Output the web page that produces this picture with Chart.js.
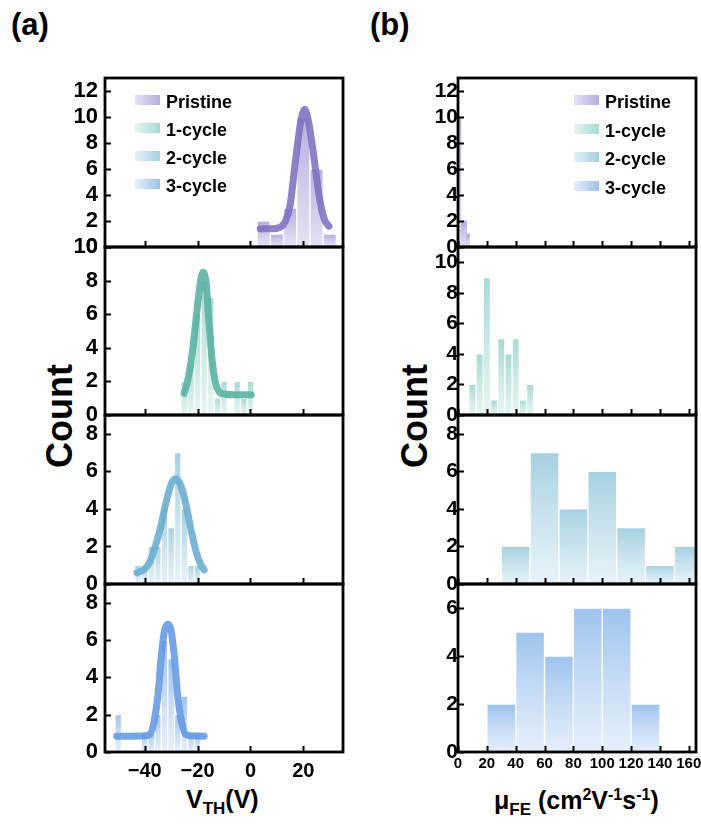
<!DOCTYPE html>
<html lang="en">
<head>
<meta charset="UTF-8" />
<title>V_TH and mobility histograms</title>
<script src="https://cdn.jsdelivr.net/npm/chart.js"></script>
<style>
  html, body { margin: 0; padding: 0; background: #fff; overflow: hidden; }
  #page { position: relative; width: 701px; height: 829px; font-family: "Liberation Sans", Arial, sans-serif; color: #000; }
  #page canvas { position: absolute; }
  .txt { position: absolute; font-weight: bold; white-space: nowrap; line-height: 1; }
  .tag { font-size: 31px; }
  .count { font-size: 36px; width: 120px; text-align: center; }
  .xt { font-size: 25px; }
  .xt sub { font-size: 17px; }
  .xt sup { font-size: 16px; }
  .leg { position: absolute; font-weight: bold; font-size: 18px; white-space: nowrap; line-height: 20px; }
  .leg i { display: inline-block; width: 25px; height: 10px; margin-right: 6px; vertical-align: 3px; }
</style>
</head>
<body>
<div id="page">
  <div class="txt tag" style="left:11px; top:9px">(a)</div>
  <div class="txt tag" style="left:370px; top:9px">(b)</div>
  <div class="txt count" style="left:0px; top:398px; transform:rotate(-90deg)">Count</div>
  <div class="txt count" style="left:355px; top:398px; transform:rotate(-90deg)">Count</div>
  <div class="txt xt" style="left:186px; top:787px">V<sub>TH</sub>(V)</div>
  <div class="txt xt" style="left:494px; top:787px">μ<sub>FE</sub> (cm<sup>2</sup>V<sup>-1</sup>s<sup>-1</sup>)</div>
</div>

<script>
  // ---- data ----
  const legendLabels = ['Pristine', '1-cycle', '2-cycle', '3-cycle'];

  // (a) threshold voltage histograms (bin centre, count)
  const vthPristineX = [5, 10, 15, 20, 25, 30];
  const vthPristineN = [2, 1, 3, 10, 6, 1];
  const vth1X = [-25, -22.5, -20, -17.5, -15, -12.5, -10, -7.5, -5, -2.5, 0];
  const vth1N = [2, 3, 6, 8, 7, 1, 2, 0, 2, 1, 2];
  const vth2X = [-42.5, -40, -37.5, -35, -32.5, -30, -27.5, -25, -22.5, -20];
  const vth2N = [1, 1, 2, 2, 4, 3, 7, 4, 1, 1];
  const vth3X = [-50, -47.5, -45, -42.5, -40, -37.5, -35, -32.5, -30, -27.5, -25, -22.5, -20];
  const vth3N = [2, 0, 0, 0, 1, 1, 2, 6, 5, 2, 3, 1, 1];

  // (a) fitted curves, sampled from the figure
  const fitPristineX = [3.7, 8, 11, 13, 15, 17, 19, 20.5, 22, 24, 26, 28, 29.7];
  const fitPristineY = [1.4, 1.4, 1.5, 1.9, 3.2, 6.6, 9.6, 10.6, 9.6, 6.9, 3.9, 2.1, 1.6];
  const fit1X = [-25.1, -23.8, -21.9, -20.1, -18.8, -17.9, -16.8, -15.7, -14.5, -13.2, -11.9, -10, -5, 0.3];
  const fit1Y = [1.3, 2.0, 3.8, 6.4, 8.0, 8.5, 7.9, 5.6, 3.3, 1.9, 1.4, 1.25, 1.2, 1.2];
  const fit2X = [-42.9, -40, -38, -36, -34, -32, -30, -28.4, -26.5, -24.5, -22.5, -20.5, -19, -17.5];
  const fit2Y = [0.6, 0.8, 1.2, 2.0, 3.0, 4.3, 5.3, 5.6, 5.3, 4.3, 2.9, 1.7, 1.1, 0.75];
  const fit3X = [-50.6, -45, -40, -38, -36.5, -35, -33.8, -32.5, -31.2, -30, -28.7, -27.5, -26, -24.5, -22.5, -17.5];
  const fit3Y = [0.85, 0.85, 0.87, 0.95, 1.6, 3.0, 5.0, 6.5, 6.85, 6.5, 5.0, 3.0, 1.6, 0.95, 0.87, 0.85];

  // (b) field-effect mobility histograms (bin centre, count)
  const muPristineX = [1, 3, 5, 7, 9];
  const muPristineN = [10, 2, 2, 1, 0];
  const mu1X = [10, 15, 20, 25, 30, 35, 40, 45, 50];
  const mu1N = [2, 4, 9, 1, 5, 4, 5, 1, 2];
  const mu2X = [40, 60, 80, 100, 120, 140, 160];
  const mu2N = [2, 7, 4, 6, 3, 1, 2];
  const mu3X = [30, 50, 70, 90, 110, 130];
  const mu3N = [2, 5, 4, 6, 6, 2];

  // tick labels
  const vthTicks = [-40, -20, 0, 20];
  const muTicks = [0, 20, 40, 60, 80, 100, 120, 140, 160];
  const countTicks13 = [0, 2, 4, 6, 8, 10, 12];
  const countTicks10 = [0, 2, 4, 6, 8, 10];
  const countTicks8 = [0, 2, 4, 6, 8];
  const countTicks6 = [0, 2, 4, 6];

  // ---- styling ----
  const FONT = '"Liberation Sans", Arial, sans-serif';
  const lineCol = ['rgba(128,112,192,0.88)', 'rgba(88,176,160,0.88)', 'rgba(104,172,206,0.88)', 'rgba(98,152,226,0.88)'];
  const barTop = ['rgba(170,158,218,0.85)', 'rgba(150,212,202,0.85)', 'rgba(155,203,222,0.9)', 'rgba(146,188,236,0.9)'];
  const barBot = ['rgba(212,206,238,0.6)', 'rgba(214,238,234,0.6)', 'rgba(214,234,242,0.6)', 'rgba(212,228,248,0.6)'];

  const tops = [78, 247, 415, 584];
  const bottoms = [247, 415, 584, 752];
  const page = document.getElementById('page');

  function pts(xs, ys) { return xs.map((x, i) => ({ x: x, y: ys[i] })); }

  function barFill(k) {
    return function (c) {
      const chart = c.chart;
      if (!chart.chartArea || !c.parsed) return barBot[k];
      const y = chart.scales.y.getPixelForValue(c.parsed.y);
      const base = chart.scales.y.getPixelForValue(0);
      if (!(base > y)) return barBot[k];
      const g = chart.ctx.createLinearGradient(0, y, 0, base);
      g.addColorStop(0, barTop[k]);
      g.addColorStop(1, barBot[k]);
      return g;
    };
  }

  // box frame + inward tick marks
  const framePlugin = {
    id: 'frame',
    afterDatasetsDraw(chart) {
      const { ctx, chartArea: a, scales } = chart;
      ctx.save();
      ctx.strokeStyle = '#000';
      ctx.lineWidth = 2;
      ctx.beginPath();
      scales.x.ticks.forEach(t => {
        const p = Math.round(scales.x.getPixelForValue(t.value)) + 0.5;
        ctx.moveTo(p, a.bottom); ctx.lineTo(p, a.bottom - 6);
      });
      scales.y.ticks.forEach(t => {
        const p = Math.round(scales.y.getPixelForValue(t.value)) + 0.5;
        ctx.moveTo(a.left, p); ctx.lineTo(a.left + 6, p);
      });
      ctx.stroke();
      ctx.lineWidth = 2.8;
      ctx.strokeRect(a.left, a.top, a.right - a.left, a.bottom - a.top);
      ctx.restore();
    }
  };

  function panel(opt) {
    const padTop = 16, padBot = opt.last ? 4 : 16;
    const xAxisH = opt.last ? opt.xAxisH : 0;
    const h = (bottoms[opt.row] - tops[opt.row]) + padTop + padBot + xAxisH;
    const cv = document.createElement('canvas');
    cv.width = opt.width; cv.height = h;
    cv.style.left = opt.left + 'px';
    cv.style.top = (tops[opt.row] - padTop) + 'px';
    page.appendChild(cv);

    const datasets = [];
    if (opt.fitX) {
      datasets.push({
        type: 'line', data: pts(opt.fitX, opt.fitY), order: 0,
        borderColor: lineCol[opt.k], borderWidth: 7, borderCapStyle: 'round', borderJoinStyle: 'round',
        pointRadius: 0, cubicInterpolationMode: 'monotone', fill: false
      });
    }
    datasets.push({
      type: 'bar', data: pts(opt.binX, opt.binN), order: 1,
      backgroundColor: barFill(opt.k), borderColor: 'rgba(255,255,255,0.55)',
      borderWidth: opt.thin ? 0 : 1,
      borderSkipped: 'bottom', barPercentage: 1, categoryPercentage: 1
    });

    new Chart(cv, {
      type: 'bar',
      data: { datasets: datasets },
      plugins: [framePlugin],
      options: {
        responsive: false, animation: false,
        layout: { padding: { top: padTop, bottom: padBot, left: 0, right: opt.padRight } },
        plugins: { legend: { display: false }, tooltip: { enabled: false } },
        scales: {
          x: {
            type: 'linear', min: opt.xMin, max: opt.xMax, offset: false,
            grid: { display: false, drawTicks: false }, border: { display: false },
            afterBuildTicks: s => { s.ticks = opt.xTicks.map(v => ({ value: v })); },
            afterFit: s => { s.height = xAxisH; s.paddingLeft = 0; s.paddingRight = 0; },
            ticks: {
              display: !!opt.last, autoSkip: false, maxRotation: 0, padding: opt.xPad,
              color: '#000', font: { family: FONT, weight: 'bold', size: opt.xFont },
              callback: v => String(v).replace('-', '\u2212')
            }
          },
          y: {
            min: 0, max: opt.yMax,
            grid: { display: false, drawTicks: false }, border: { display: false },
            afterBuildTicks: s => { s.ticks = opt.yTicks.map(v => ({ value: v })); },
            afterFit: s => { s.width = opt.yW; s.paddingTop = 0; s.paddingBottom = 0; },
            ticks: { autoSkip: false, padding: opt.yPad, color: '#000', font: { family: FONT, weight: 'bold', size: opt.yFont } }
          }
        }
      }
    });
  }

  // (a) column
  const aCol = { left: 20, width: 340, yW: 85, padRight: 17, xMin: -55, xMax: 35, xTicks: vthTicks, xFont: 20, xPad: 7, xAxisH: 30, yPad: 7, yFont: 22 };
  panel(Object.assign({}, aCol, { row: 0, k: 0, binX: vthPristineX, binN: vthPristineN, fitX: fitPristineX, fitY: fitPristineY, yMax: 13, yTicks: countTicks13 }));
  panel(Object.assign({}, aCol, { row: 1, k: 1, binX: vth1X, binN: vth1N, fitX: fit1X, fitY: fit1Y, yMax: 10, yTicks: countTicks10 }));
  panel(Object.assign({}, aCol, { row: 2, k: 2, binX: vth2X, binN: vth2N, fitX: fit2X, fitY: fit2Y, yMax: 9, yTicks: countTicks8 }));
  panel(Object.assign({}, aCol, { row: 3, k: 3, binX: vth3X, binN: vth3N, fitX: fit3X, fitY: fit3Y, yMax: 9, yTicks: countTicks8, last: true }));

  // (b) column
  const bCol = { left: 380, width: 321, yW: 78, padRight: 5, xMin: 0, xMax: 165, xTicks: muTicks, xFont: 15, xPad: 3, xAxisH: 24, yPad: 0, yFont: 21 };
  panel(Object.assign({}, bCol, { row: 0, k: 0, binX: muPristineX, binN: muPristineN, yMax: 13, yTicks: countTicks13, thin: true }));
  panel(Object.assign({}, bCol, { row: 1, k: 1, binX: mu1X, binN: mu1N, yMax: 11, yTicks: countTicks10 }));
  panel(Object.assign({}, bCol, { row: 2, k: 2, binX: mu2X, binN: mu2N, yMax: 9, yTicks: countTicks8 }));
  panel(Object.assign({}, bCol, { row: 3, k: 3, binX: mu3X, binN: mu3N, yMax: 7, yTicks: countTicks6, last: true }));

  // legends (text kept as real text)
  function legend(left, top, step) {
    legendLabels.forEach((name, k) => {
      const d = document.createElement('div');
      d.className = 'leg';
      d.style.left = left + 'px';
      d.style.top = (top + k * step) + 'px';
      d.innerHTML = '<i style="background:linear-gradient(90deg,' + barBot[k] + ',' + barTop[k] + ')"></i>' + name;
      page.appendChild(d);
    });
  }
  legend(135, 92, 28);
  legend(574, 92, 28.7);
</script>
</body>
</html>
